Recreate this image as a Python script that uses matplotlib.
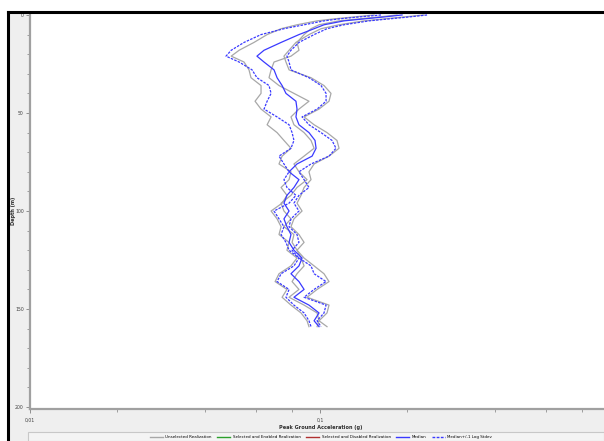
import matplotlib
matplotlib.use("Agg")
import matplotlib.pyplot as plt
from matplotlib.lines import Line2D
from matplotlib.patches import Rectangle
from matplotlib.ticker import FixedLocator, FixedFormatter, NullFormatter

depth = [0, 1, 2, 3, 5, 7, 10, 14, 18, 21, 24, 28, 32, 36, 40, 44, 48, 52, 56, 60, 64, 68, 72,
         76, 80, 84, 88, 92, 96, 100, 104, 108, 112, 116, 120, 124, 128, 132, 136, 140, 144,
         148, 152, 156, 159]

median_lo = [0.1623, 0.1363, 0.1163, 0.1032, 0.0881, 0.0751, 0.0626, 0.0547, 0.0494, 0.0474,
             0.0526, 0.0583, 0.0606, 0.0667, 0.0678, 0.0657, 0.0641, 0.0711, 0.0782, 0.0801,
             0.0813, 0.0794, 0.0722, 0.0751, 0.0782, 0.0751, 0.0769, 0.0826, 0.0782, 0.0694,
             0.0722, 0.0751, 0.0734, 0.0763, 0.0782, 0.0846, 0.0813, 0.0734, 0.0711, 0.0782,
             0.0763, 0.0813, 0.0881, 0.0916, 0.0931]
median = [0.1918, 0.1662, 0.1418, 0.1209, 0.1032, 0.0954, 0.0846, 0.0734, 0.0641, 0.0606,
          0.0641, 0.0694, 0.0711, 0.0740, 0.0763, 0.0826, 0.0833, 0.0826, 0.0846, 0.0916,
          0.0961, 0.0969, 0.0939, 0.0833, 0.0782, 0.0846, 0.0813, 0.0769, 0.0751, 0.0782,
          0.0751, 0.0769, 0.0794, 0.0782, 0.0813, 0.0867, 0.0846, 0.0794, 0.0846, 0.0881,
          0.0813, 0.0916, 0.0992, 0.0954, 0.0992]
median_hi = [0.2339, 0.2028, 0.1729, 0.1476, 0.1209, 0.1057, 0.0954, 0.0846, 0.0794, 0.0769,
             0.0782, 0.0794, 0.0916, 0.1008, 0.1049, 0.1049, 0.0977, 0.0867, 0.0916, 0.1008,
             0.1100, 0.1135, 0.1074, 0.0931, 0.0846, 0.0881, 0.0916, 0.0846, 0.0813, 0.0846,
             0.0794, 0.0782, 0.0833, 0.0846, 0.0801, 0.0846, 0.0931, 0.0954, 0.1049, 0.0954,
             0.0881, 0.1049, 0.1032, 0.0977, 0.1008]

real_1 = [0.1536, 0.1309, 0.1117, 0.0977, 0.0833, 0.0734, 0.0657, 0.0592, 0.0526, 0.0494,
          0.0547, 0.0569, 0.0578, 0.0626, 0.0626, 0.0597, 0.0626, 0.0678, 0.0657, 0.0711,
          0.0751, 0.0794, 0.0740, 0.0722, 0.0794, 0.0782, 0.0734, 0.0769, 0.0740, 0.0678,
          0.0711, 0.0734, 0.0722, 0.0782, 0.0769, 0.0833, 0.0794, 0.0722, 0.0700, 0.0769,
          0.0740, 0.0794, 0.0860, 0.0902, 0.0916]
real_2 = [0.1842, 0.1597, 0.1363, 0.1163, 0.0992, 0.0931, 0.0881, 0.0833, 0.0846, 0.0794,
          0.0694, 0.0678, 0.0667, 0.0722, 0.0813, 0.0916, 0.0846, 0.0794, 0.0813, 0.0881,
          0.0931, 0.0954, 0.0881, 0.0813, 0.0846, 0.0902, 0.0833, 0.0794, 0.0734, 0.0751,
          0.0794, 0.0751, 0.0813, 0.0801, 0.0833, 0.0860, 0.0881, 0.0833, 0.0801, 0.0846,
          0.0782, 0.0881, 0.0977, 0.0992, 0.0977]
real_3 = [0.2279, 0.1949, 0.1662, 0.1418, 0.1163, 0.1008, 0.0916, 0.0826, 0.0782, 0.0751,
          0.0763, 0.0782, 0.0931, 0.1032, 0.1091, 0.1074, 0.0992, 0.0881, 0.0954, 0.1057,
          0.1144, 0.1163, 0.1074, 0.0954, 0.0916, 0.0931, 0.0881, 0.0860, 0.0833, 0.0867,
          0.0813, 0.0794, 0.0846, 0.0881, 0.0833, 0.0881, 0.0954, 0.1032, 0.1074, 0.0977,
          0.0902, 0.1074, 0.1057, 0.0992, 0.1057]

x_major = [0.01, 0.1, 1.0]
x_major_labels = ["0,01", "0,1", "1"]
x_minor = [0.02, 0.04, 0.06, 0.08, 0.2, 0.4, 0.6, 0.8]
y_major = [0, 50, 100, 150, 200]
y_minor = [10, 20, 30, 40, 60, 70, 80, 90, 110, 120, 130, 140, 160, 170, 180, 190]
legend_labels = ["Unselected Realization", "Selected and Enabled Realization",
                 "Selected and Disabled Realization", "Median", "Median+/-1 Log Stdev"]

W, H = 604, 441
fig = plt.figure(figsize=(W / 100, H / 100), dpi=100, facecolor="white")

# window panel background and frame
fig.add_artist(Rectangle((8 / W, 0), 1 - 8 / W, 1 - 12 / H, transform=fig.transFigure,
                         facecolor="#efefef", edgecolor="none", zorder=0))
fig.add_artist(Line2D([8 / W, 1], [1 - 12 / H, 1 - 12 / H], transform=fig.transFigure,
                      color="black", lw=2.2, zorder=5))
fig.add_artist(Line2D([8 / W, 8 / W], [0, 1 - 12 / H], transform=fig.transFigure,
                      color="black", lw=2.2, zorder=5))

ax = fig.add_axes([30 / W, 1 - 409 / H, 1 - 30 / W, (409 - 14) / H])
ax.set_facecolor("white")

gray = "#a8a8a8"
blue = "#3a3aff"
for r in (real_1, real_2, real_3):
    ax.plot(r, depth, color=gray, lw=0.9, zorder=2)
ax.plot(median_lo, depth, color=blue, lw=0.9, ls=(0, (2, 1)), zorder=3)
ax.plot(median_hi, depth, color=blue, lw=0.9, ls=(0, (2, 1)), zorder=3)
ax.plot(median, depth, color=blue, lw=0.9, zorder=4)

ax.set_xscale("log")
ax.set_xlim(0.01, 0.953)
ax.set_ylim(201, -0.5)

ax.xaxis.set_major_locator(FixedLocator(x_major))
ax.xaxis.set_major_formatter(FixedFormatter(x_major_labels))
ax.xaxis.set_minor_locator(FixedLocator(x_minor))
ax.xaxis.set_minor_formatter(NullFormatter())
ax.yaxis.set_major_locator(FixedLocator(y_major))
ax.yaxis.set_minor_locator(FixedLocator(y_minor))

for s in ("top", "right"):
    ax.spines[s].set_visible(False)
for s in ("left", "bottom"):
    ax.spines[s].set_color("#a0a0a0")
    ax.spines[s].set_linewidth(1.6)

ax.tick_params(axis="both", which="major", length=3, width=0.6, color="#808080",
               labelsize=3.3, labelcolor="#404040")
ax.tick_params(axis="both", which="minor", length=2, width=0.6, color="#909090")
ax.tick_params(axis="x", which="major", pad=3)
ax.tick_params(axis="y", which="major", pad=1.5)

fig.text(321 / W, 1 - 428 / H, "Peak Ground Acceleration (g)", ha="center", va="center",
         fontsize=3.6, fontweight="bold", color="#303030")
fig.text(13 / W, 1 - 211 / H, "Depth (m)", ha="center", va="center", rotation=90,
         fontsize=3.6, fontweight="bold", color="#303030")

# legend panel
fig.add_artist(Rectangle((28 / W, 0), 1 - 28 / W, (441 - 432) / H, transform=fig.transFigure,
                         facecolor="#f4f4f4", edgecolor="#c8c8c8", lw=0.8, zorder=1))
handles = [Line2D([], [], color=gray, lw=1.0),
           Line2D([], [], color="#2ca02c", lw=1.0),
           Line2D([], [], color="#b03030", lw=1.0),
           Line2D([], [], color=blue, lw=1.0),
           Line2D([], [], color=blue, lw=1.0, ls=(0, (2, 1)))]
fig.legend(handles, legend_labels, loc="center", bbox_to_anchor=(321 / W, 1 - 437 / H),
           ncol=5, fontsize=2.9, frameon=False, handlelength=3.2, handletextpad=0.6,
           columnspacing=1.4, borderpad=0)

fig.savefig("out.png", dpi=100, facecolor="white")
